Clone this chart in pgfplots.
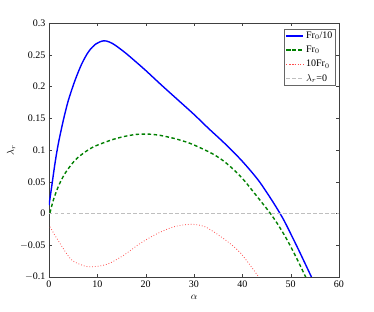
\documentclass[border=0pt]{standalone}
\usepackage{pgfplots}
\pgfplotsset{compat=1.18}
\usepackage{fontspec}
\setmainfont{Liberation Serif}
\begin{document}
\begin{tikzpicture}[x=1pt,y=1pt]
\begin{axis}[
  name=ax,
  scale only axis,
  width=290pt, height=254pt,
  xmin=0, xmax=60, ymin=-0.1, ymax=0.3,
  xtick={0,10,...,60},
  ytick={-0.1,-0.05,0,0.05,0.1,0.15,0.2,0.25,0.3},
  yticklabels={$-$0.1,$-$0.05,0,0.05,0.1,0.15,0.2,0.25,0.3},
  /pgf/number format/assume math mode=true,
  tick align=inside,
  major tick length=3pt,
  tick label style={font=\fontsize{10}{12}\selectfont},
  xlabel={$\alpha$},
  ylabel={$\lambda_r$},
  xlabel style={yshift=-1pt},
  ylabel style={yshift=-2pt},
  axis line style={black!75},
  tick style={black!75},
  legend style={at={(rel axis cs:0.988,0.978)}, anchor=north east, font=\fontsize{10}{12}\selectfont, draw=black!60, inner sep=1pt, row sep=2pt},
  legend cell align=left,
]
\addplot[blue, line width=1.4pt, smooth, tension=0.5] coordinates {
(0,0.013) (0.55,0.042) (1.24,0.079) (1.93,0.110) (2.97,0.147) (4.0,0.178) (5.4,0.210) (6.8,0.236) (8.2,0.255) (9.7,0.267) (11.3,0.272) (12.5,0.270) (13.7,0.265) (15.8,0.253) (17.5,0.242) (19.9,0.226) (23.3,0.202) (26.8,0.178) (30,0.156) (33,0.134) (36.4,0.110) (39.9,0.083) (43.3,0.0525) (46.1,0.021) (47.8,0) (48.9,-0.015) (51.5,-0.055) (54.3,-0.1) (54.6,-0.105)
};
\addlegendentry{Fr$_{0}$/10}
\addplot[green!50!black, line width=1.4pt, dashed, dash pattern=on 3.5pt off 2.5pt, smooth, tension=0.5] coordinates {
(0.2,0.001) (0.9,0.021) (1.9,0.042) (3.3,0.063) (5.4,0.084) (7.5,0.097) (9.5,0.106) (13,0.116) (15.4,0.121) (18,0.1245) (20.6,0.125) (23,0.123) (26,0.118) (29,0.111) (32,0.101) (34.3,0.092) (36.4,0.081) (38.5,0.067) (40.5,0.051) (42.5,0.032) (44.8,0.010) (46.1,-0.003) (47.5,-0.019) (49.3,-0.042) (51.4,-0.073) (53.1,-0.1) (53.4,-0.105)
};
\addlegendentry{Fr$_{0}$}
\addplot[red!70, line width=0.8pt, dotted, smooth, tension=0.5] coordinates {
(0.2,-0.021) (1.6,-0.039) (4.4,-0.071) (6.4,-0.080) (8.5,-0.084) (12,-0.080) (15.4,-0.066) (18.9,-0.047) (22.3,-0.032) (25.8,-0.021) (29.3,-0.017) (32.3,-0.021) (36.2,-0.040) (39.6,-0.062) (43.4,-0.1) (43.8,-0.105)
};
\addlegendentry{10Fr$_{0}$}
\addplot[gray!50, line width=0.8pt, dashed, dash pattern=on 3.5pt off 2.5pt] coordinates {(0,0) (60,0)};
\addlegendentry{$\lambda_r$=0}
\end{axis}
\path[use as bounding box] ([xshift=-49pt,yshift=-35pt]ax.south west) rectangle ([xshift=35pt,yshift=23pt]ax.north east);
\end{tikzpicture}
\end{document}
